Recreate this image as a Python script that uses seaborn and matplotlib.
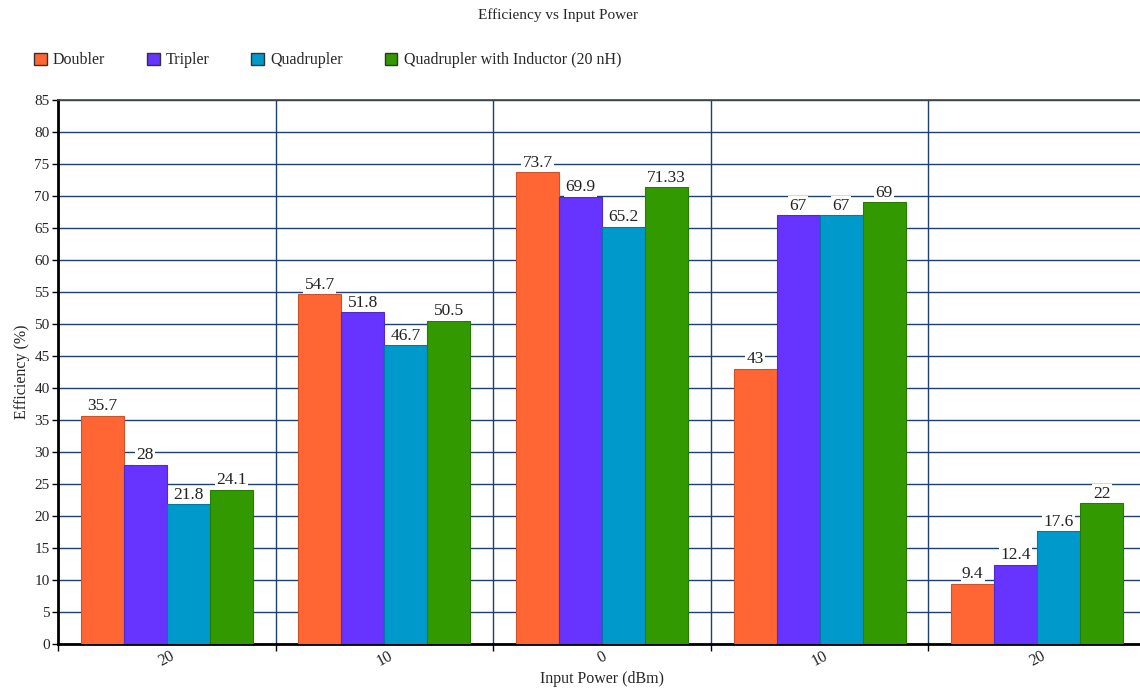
import matplotlib
matplotlib.use("Agg")
import matplotlib.pyplot as plt
import matplotlib.colors as mcolors
import seaborn as sns
import pandas as pd
import numpy as np

# ---- data ----
categories = ["-20", "-10", "0", "10", "20"]
tick_labels = ["20", "10", "0", "10", "20"]
series_names = ["Doubler", "Tripler", "Quadrupler", "Quadrupler with Inductor (20 nH)"]
doubler = [35.7, 54.7, 73.7, 43, 9.4]
tripler = [28, 51.8, 69.9, 67, 12.4]
quadrupler = [21.8, 46.7, 65.2, 67, 17.6]
quad_inductor = [24.1, 50.5, 71.33, 69, 22]
colors = ["#FF6633", "#6633FF", "#0099CC", "#339900"]

rows = []
for name, vals in zip(series_names, [doubler, tripler, quadrupler, quad_inductor]):
    for c, v in zip(categories, vals):
        rows.append({"Input": c, "Series": name, "Efficiency": v})
df = pd.DataFrame(rows)

sns.set_theme(style="white")
plt.rcParams["font.family"] = ["Liberation Serif", "DejaVu Serif"]

fig = plt.figure(figsize=(11.4, 6.89), dpi=100)
ax = fig.add_axes([58/1140, 45/689, 1088/1140, 544/689])

sns.barplot(data=df, x="Input", y="Efficiency", hue="Series", order=categories,
            hue_order=series_names, palette=colors, width=0.79, ax=ax,
            saturation=1, errorbar=None, legend=True)

for cont, col in zip(ax.containers, colors):
    dark = tuple(np.array(mcolors.to_rgb(col)) * 0.8)
    for p in cont:
        p.set_edgecolor(dark)
        p.set_linewidth(0.8)
        p.set_zorder(3)
    ax.bar_label(cont, fmt="%g", padding=1, fontsize=12.5, color="#222222",
                 bbox=dict(facecolor="white", edgecolor="none", pad=1.0), zorder=4)

ax.set_ylim(0, 85)
ax.set_xlim(-0.5, len(categories) - 0.5)
ax.set_yticks(np.arange(0, 86, 5))
ax.tick_params(axis="y", labelsize=11, length=4, width=1, color="black", direction="out", pad=2, left=True)
ax.set_xticks(range(len(categories)))
ax.set_xticklabels(tick_labels, rotation=28, fontsize=11.5)
ax.tick_params(axis="x", which="major", length=0, pad=3)
ax.set_xticks(np.arange(-0.5, len(categories), 1), minor=True)
ax.tick_params(axis="x", which="minor", length=5, width=1, color="black", direction="out", bottom=True)

ax.grid(True, axis="y", which="major", color="#1F3F6F", linewidth=1)
ax.grid(True, axis="x", which="minor", color="#1F3F6F", linewidth=1)
ax.grid(False, axis="x", which="major")
ax.set_axisbelow(True)

for s in ["left", "bottom"]:
    ax.spines[s].set_color("black")
    ax.spines[s].set_linewidth(2)
ax.spines["top"].set_color("#444444")
ax.spines["top"].set_linewidth(1.2)
ax.spines["right"].set_visible(False)

ax.set_xlabel("Input Power (dBm)", fontsize=11.5, labelpad=1)
ax.set_ylabel("Efficiency (%)", fontsize=11.5, labelpad=3)

leg = ax.get_legend()
handles, labels = ax.get_legend_handles_labels()
leg.remove()
for h, col in zip(handles, colors):
    h.set_edgecolor("#333333")
    h.set_linewidth(1)
fig.legend(handles, labels, loc="upper left", bbox_to_anchor=(0.017, 0.945), ncol=4,
           frameon=False, fontsize=11.5, handlelength=0.8, handleheight=0.8,
           handletextpad=0.4, columnspacing=2.6)

fig.suptitle("Efficiency vs Input Power", x=558/1140, y=0.988, fontsize=11)

fig.savefig("out.png", dpi=100, facecolor="white")
